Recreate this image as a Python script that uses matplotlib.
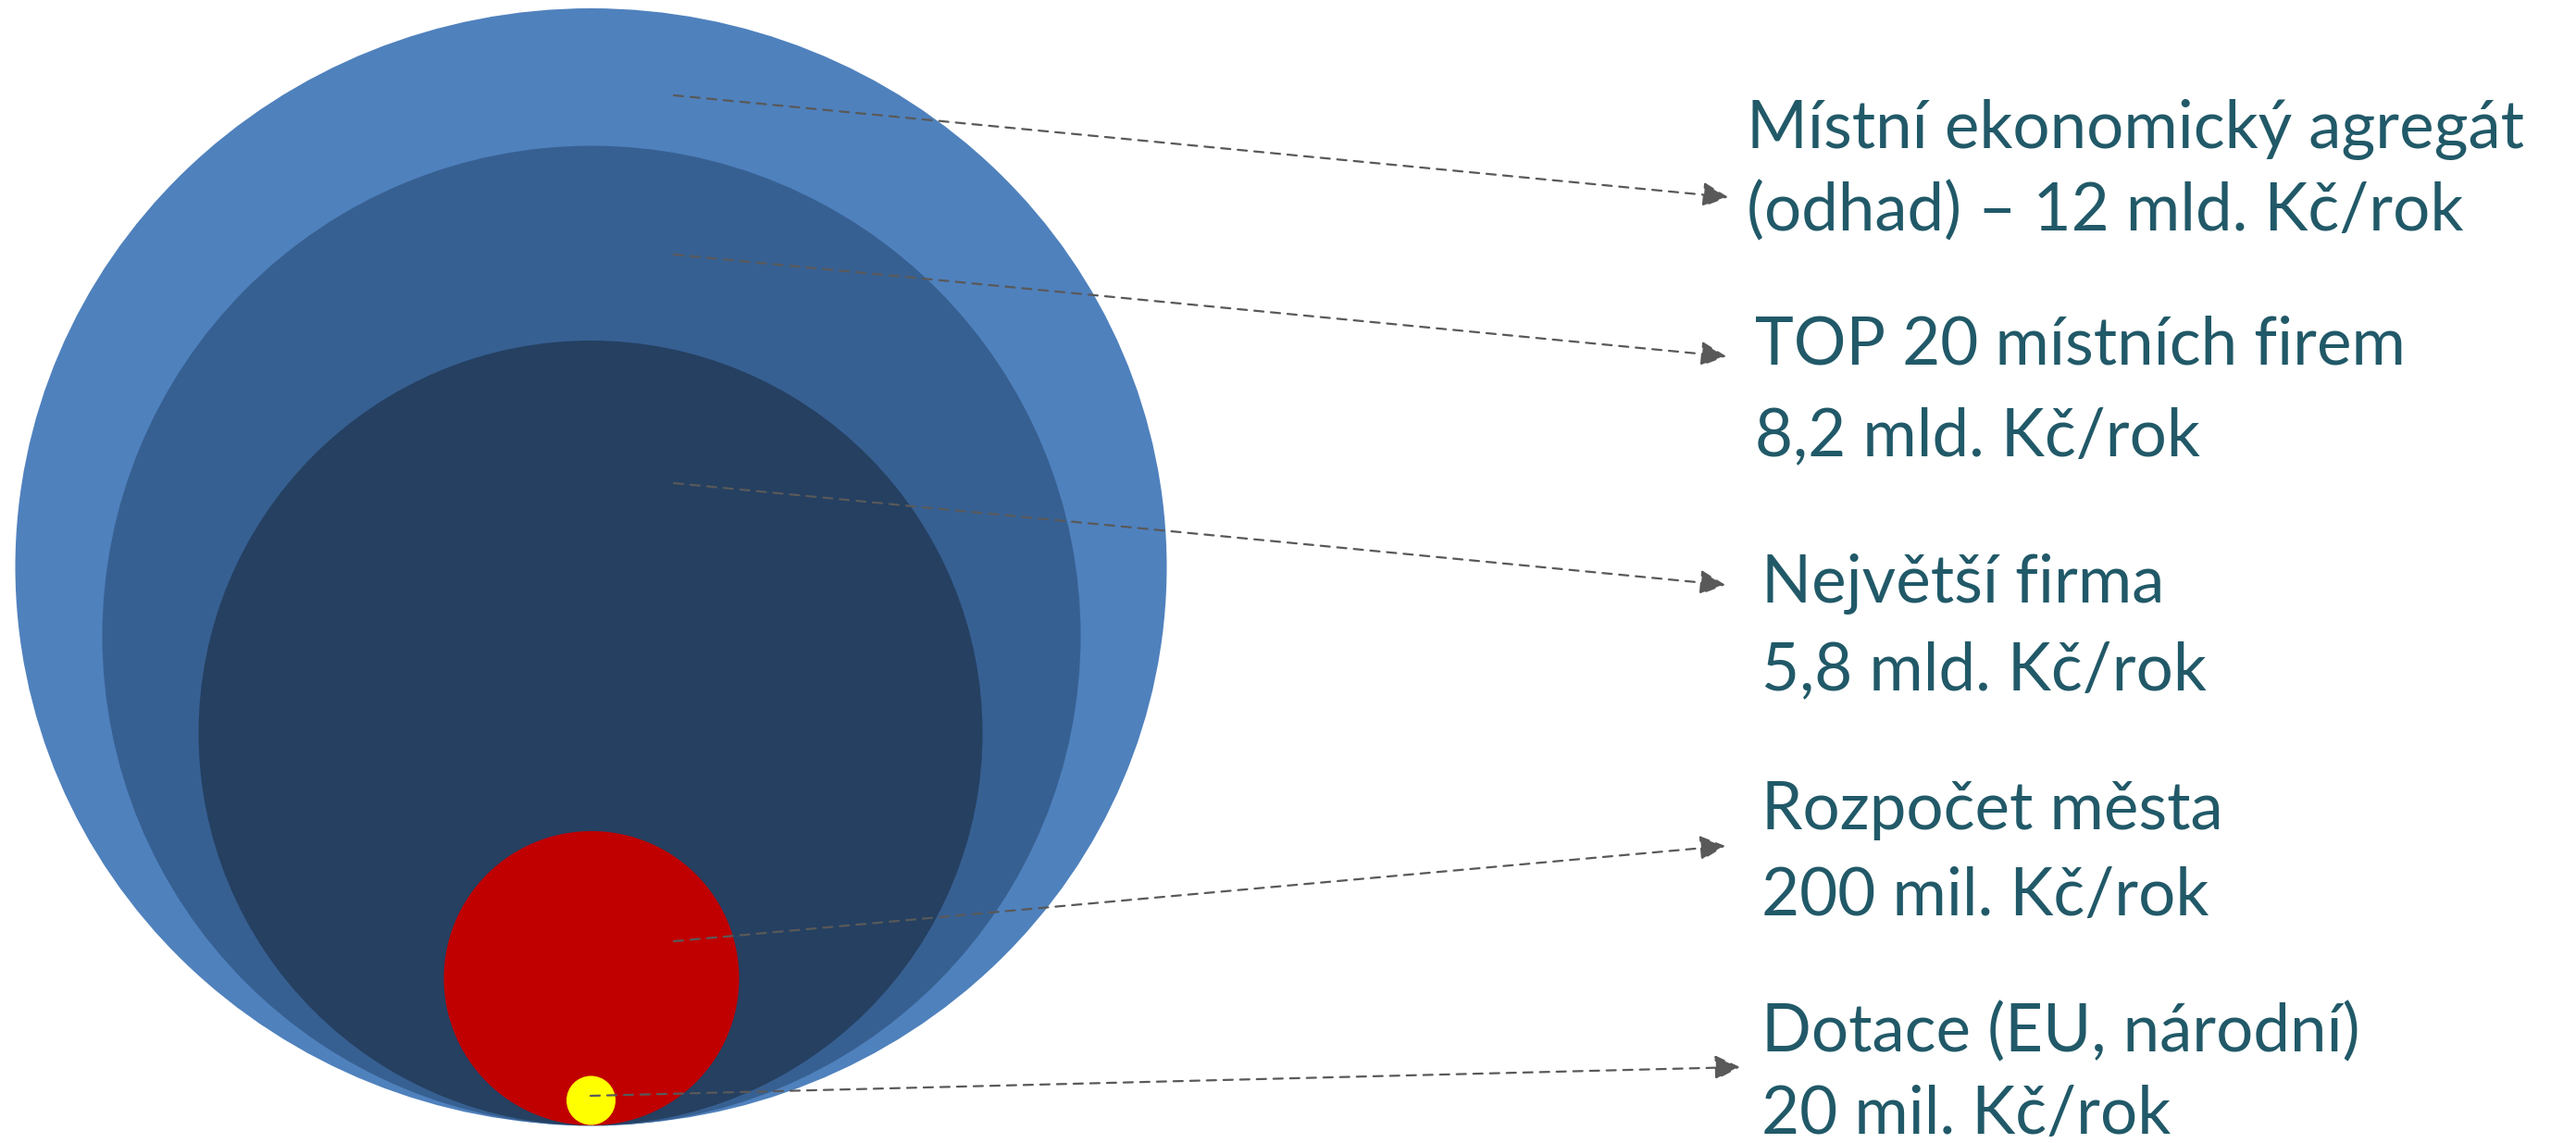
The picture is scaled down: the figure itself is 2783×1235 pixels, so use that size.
import matplotlib.pyplot as plt
from matplotlib.patches import Ellipse

# data: what each circle stands for
titles = ["Místní ekonomický agregát", "TOP 20 místních firem", "Největší firma",
          "Rozpočet města", "Dotace (EU, národní)"]
amounts = ["(odhad) – 12 mld. Kč/rok", "8,2 mld. Kč/rok", "5,8 mld. Kč/rok",
           "200 mil. Kč/rok", "20 mil. Kč/rok"]

# layout (pixels), circles all touch the same bottom point
circle_cx = [638.5, 639, 638, 639, 638.5]
circle_cy = [612.5, 687, 792, 1057, 1189]
circle_w = [1244, 1057, 847, 319, 53]
circle_h = [1207, 1059, 848, 318, 53]
circle_colors = ["#4F81BD", "#376092", "#254061", "#C00000", "#FFFF00"]

line_start = [(728, 103), (728, 275), (728, 522), (728, 1017), (638, 1184)]
line_tip = [(1867, 213), (1865, 385), (1864, 632), (1864, 914), (1880, 1153)]

text_x = [1887, 1896, 1903, 1903, 1903]
text_y1 = [160, 394, 651, 896, 1136]
text_y2 = [249, 492, 745, 989, 1225]

W, H = 2783, 1235
fig = plt.figure(figsize=(W / 100, H / 100), dpi=100)
ax = fig.add_axes([0, 0, 1, 1])
ax.set_xlim(0, W)
ax.set_ylim(H, 0)
ax.axis("off")

for cx, cy, w, h, c in zip(circle_cx, circle_cy, circle_w, circle_h, circle_colors):
    ax.add_patch(Ellipse((cx, cy), w, h, facecolor=c, edgecolor="none"))

# dashed leader lines with arrow heads
for (x0, y0), (x1, y1) in zip(line_start, line_tip):
    ax.annotate("", xy=(x1, y1), xytext=(x0, y0),
                arrowprops=dict(arrowstyle="-|>,head_length=0.85,head_width=0.42",
                                color="#595959", lw=1.6, linestyle=(0, (4.5, 3.6)),
                                shrinkA=0, shrinkB=0, mutation_scale=20))

for x, y1, y2, t, a in zip(text_x, text_y1, text_y2, titles, amounts):
    ax.text(x, y1, t, fontsize=51, family="Lato", color="#215968", va="baseline", ha="left")
    ax.text(x, y2, a, fontsize=51, family="Lato", color="#215968", va="baseline", ha="left")

plt.savefig("out.png", dpi=100)
plt.close("all")
